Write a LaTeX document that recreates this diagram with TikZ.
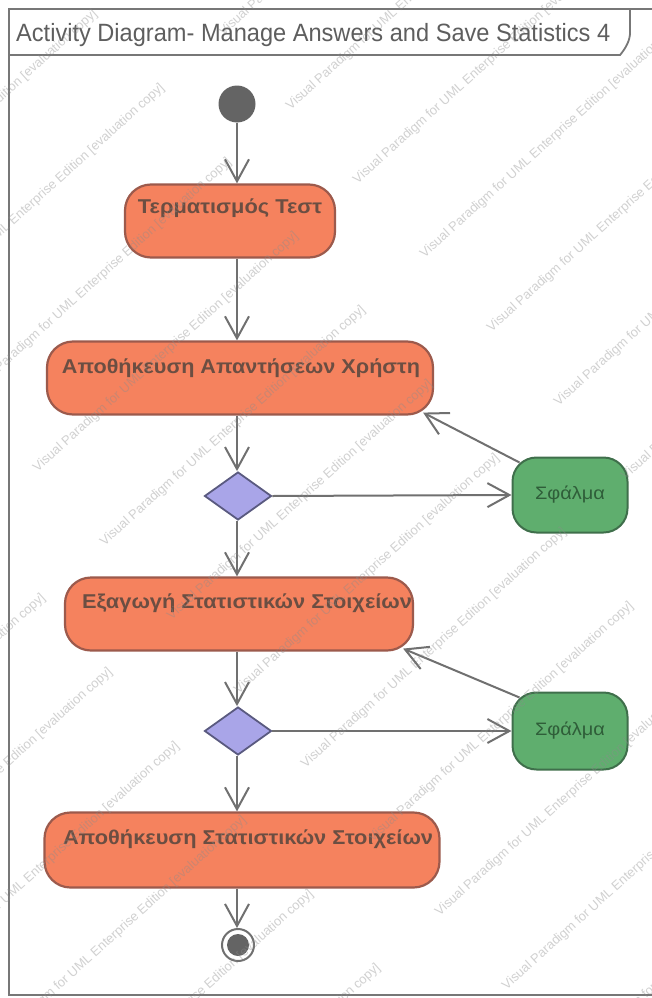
\documentclass[tikz,border=0pt]{standalone}
\usepackage{fontspec}
\setmainfont{Liberation Sans}
\usetikzlibrary{shapes.geometric,arrows.meta,calc}

\definecolor{actfill}{HTML}{F5825E}
\definecolor{actdraw}{HTML}{9C5A4C}
\definecolor{acttext}{HTML}{6B4E42}
\definecolor{errfill}{HTML}{5FAE6E}
\definecolor{errdraw}{HTML}{3F6F4B}
\definecolor{errtext}{HTML}{2F5E39}
\definecolor{decfill}{HTML}{A9A5E8}
\definecolor{decdraw}{HTML}{5A5A80}
\definecolor{flowc}{HTML}{707070}
\definecolor{framec}{HTML}{777777}
\definecolor{titlec}{HTML}{5E5E5E}
\definecolor{dotc}{HTML}{646464}
\definecolor{wmgray}{HTML}{8C8C8C}

\tikzset{
  action/.style={draw=actdraw, line width=2.2pt, fill=actfill,
    rounded corners=26pt, inner sep=0pt},
  acttxt/.style={text=acttext, inner sep=0pt, anchor=base,
    font=\fontsize{20pt}{24pt}\selectfont\bfseries},
  errbox/.style={draw=errdraw, fill=errfill, line width=2pt,
    rounded corners=24pt, minimum width=115pt, inner sep=0pt,
    text=errtext, font=\fontsize{18pt}{20pt}\selectfont},
  decision/.style={diamond, aspect=1.4, minimum width=67pt,
    minimum height=48pt, inner sep=0pt, draw=decdraw, fill=decfill,
    line width=1.8pt},
  flow/.style={draw=flowc, line width=2pt,
    -{Straight Barb[length=22pt, width=24pt, line width=2pt]}},
  wm/.style={text=wmgray, text opacity=0.4, inner sep=0pt,
    font=\fontsize{13pt}{15pt}\selectfont},
}

\begin{document}
\begin{tikzpicture}[x=1pt, y=-1pt]
\useasboundingbox (0,0) rectangle (652,998);
\fill[white] (0,0) rectangle (652,998);

% diagram frame and name tab
\draw[framec, line width=2pt] (680,9) -- (9,9) -- (9,995) -- (680,995);
\draw[framec, line width=1.8pt] (9,55) -- (620,55)
  .. controls (626,48) and (630,40) .. (630,33) -- (630,9);
\node[anchor=base west, inner sep=0pt, text=titlec,
  font=\fontsize{25pt}{28pt}\selectfont] (title) at (16,42)
  {\resizebox{594pt}{\height}{Activity Diagram- Manage Answers and Save Statistics 4}};

% spine of the main flow
\coordinate (spine) at (237,0);

% initial node
\node[circle, fill=dotc, minimum size=37pt, inner sep=0pt] (init) at (237,104) {};

% actions
\node[action, minimum width=210pt, minimum height=73pt] (a1) at (230,221) {};
\node[acttxt] (t1) at ([yshift=8pt]a1.center) {\resizebox{184pt}{\height}{Τερματισμός Τεστ}};

\node[action, minimum width=386pt, minimum height=73pt] (a2) at (240,378) {};
\node[acttxt] (t2) at ([yshift=5pt, xshift=1pt]a2.center) {\resizebox{358pt}{\height}{Αποθήκευση Απαντήσεων Χρήστη}};

\node[action, minimum width=348pt, minimum height=73pt] (a3) at (239,614) {};
\node[acttxt] (t3) at ([yshift=6pt, xshift=8pt]a3.center) {\resizebox{330pt}{\height}{Εξαγωγή Στατιστικών Στοιχείων}};

\node[action, minimum width=395pt, minimum height=75pt] (a4) at (242,850) {};
\node[acttxt] (t4) at ([yshift=6pt, xshift=6pt]a4.center) {\resizebox{370pt}{\height}{Αποθήκευση Στατιστικών Στοιχείων}};

% decisions
\node[decision] (d1) at (238,496) {};
\node[decision] (d2) at (238,731) {};

% error actions
\node[errbox, minimum height=75pt] (e1) at (570,495) {\resizebox{70pt}{\height}{Σφάλμα}};
\node[errbox, minimum height=77pt] (e2) at (570,731) {\resizebox{70pt}{\height}{Σφάλμα}};

% final node
\node[circle, draw=flowc, line width=2pt, fill=white, minimum size=32pt, inner sep=0pt] (fin) at (238,945) {};
\node[circle, fill=dotc, minimum size=22pt, inner sep=0pt] (finin) at (fin.center) {};

% control flows
\draw[flow] (spine |- init.south) -- (spine |- a1.north);
\draw[flow] (spine |- a1.south) -- (spine |- a2.north);
\draw[flow] (spine |- a2.south) -- (spine |- d1.north);
\draw[flow] (d1.east) -- (e1.west);
\draw[flow] ([shift={(8,6)}]e1.north west) -- ([shift={(-11,-3)}]a2.south east);
\draw[flow] (spine |- d1.south) -- (spine |- a3.north);
\draw[flow] (spine |- a3.south) -- (spine |- d2.north);
\draw[flow] (d2.east) -- (e2.west);
\draw[flow] ([shift={(8,6)}]e2.north west) -- ([shift={(-11,-3)}]a3.south east);
\draw[flow] (spine |- d2.south) -- (spine |- a4.north);
\draw[flow] (spine |- a4.south) -- (spine |- fin.north);

% evaluation watermark
\begin{scope}
\clip (0,0) rectangle (652,998);
\foreach \a in {-3,...,3}{
  \foreach \b in {-8,...,10}{
    \pgfmathsetmacro\wx{300+\a*320+\b*67}
    \pgfmathsetmacro\wy{500-\a*288+\b*74}
    \pgfmathtruncatemacro\inside{and(and(\wx>-170,\wx<820),and(\wy>-140,\wy<1140))}
    \ifnum\inside=1
      \node[wm, rotate=42] at (\wx,\wy)
        {Visual Paradigm for UML Enterprise Edition [evaluation copy]};
    \fi
  }
}
\end{scope}
\end{tikzpicture}
\end{document}
